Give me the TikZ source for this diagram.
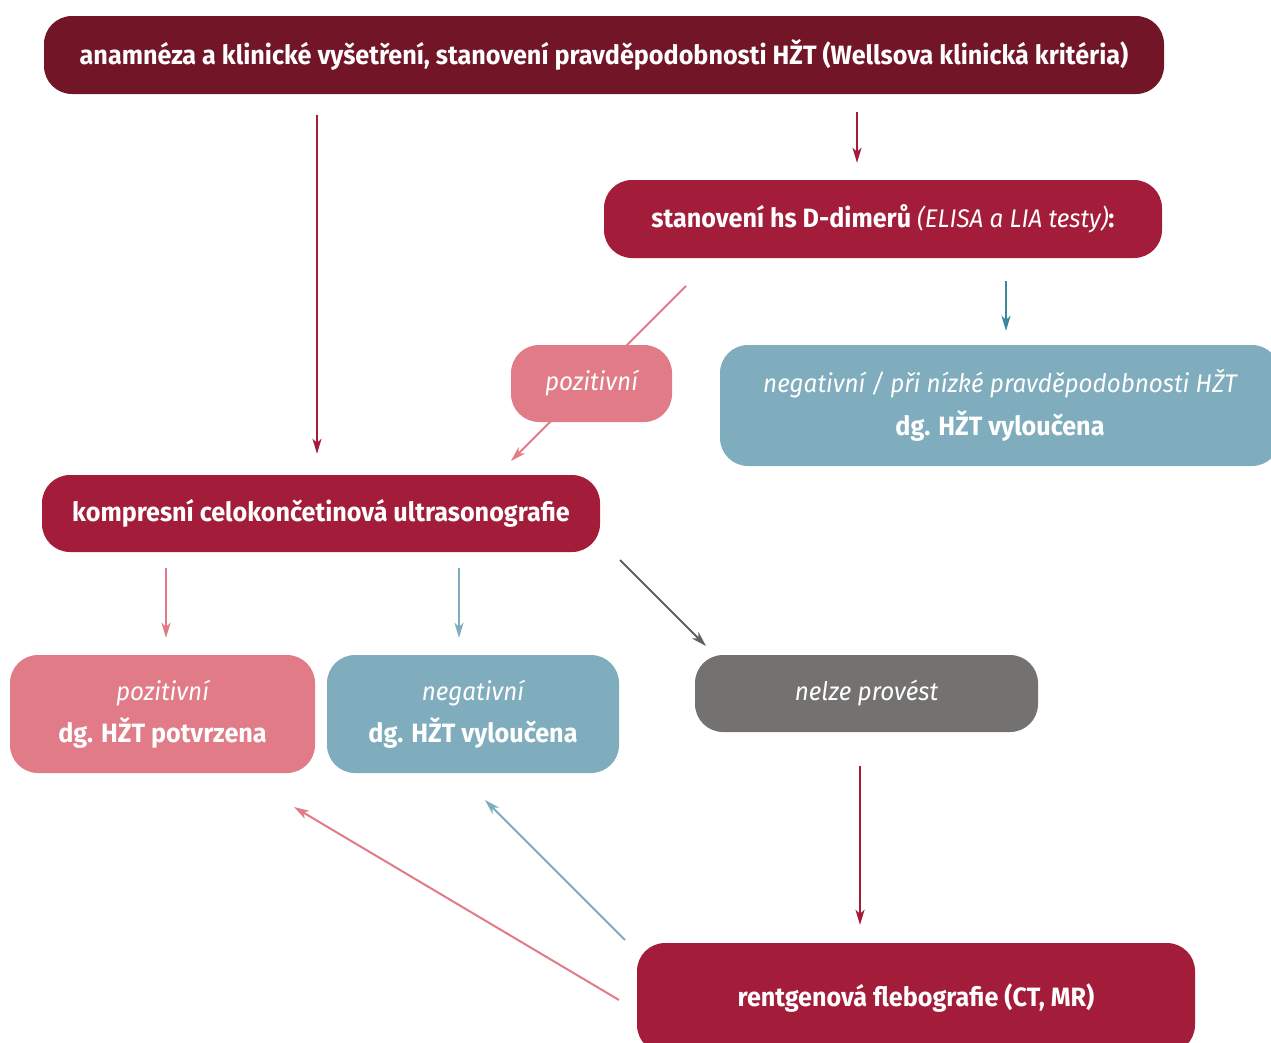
\documentclass[tikz,border=0pt]{standalone}
\usepackage{fontspec}
\setmainfont{Fira Sans}[FakeStretch=0.95]
\usetikzlibrary{arrows.meta}
\definecolor{cdark}{HTML}{721627}
\definecolor{ccrim}{HTML}{A31D3B}
\definecolor{cpink}{HTML}{E07B87}
\definecolor{cblue}{HTML}{80ADBD}
\definecolor{cgray}{HTML}{737270}
\definecolor{cteal}{HTML}{3A87A0}
\definecolor{cgarr}{HTML}{5F5F5F}
\tikzset{
  box/.style={rounded corners=28pt, text=white, align=center, inner sep=0pt,
    font=\fontsize{26.5}{30}\selectfont},
  conn/.style={line width=2pt, -{Stealth[length=15pt,width=9pt,inset=4pt]}},
}
\newcommand{\itx}[1]{{\fontsize{25.5}{30}\selectfont\mdseries\itshape #1}}
\begin{document}
\begin{tikzpicture}[x=1pt,y=-1pt]
\useasboundingbox (0,0) rectangle (1271,1042);
\begin{scope}
\clip (0,0) rectangle (1271,1042);
% nodes
\node[box, fill=cdark, minimum width=1120pt, minimum height=78pt] (top) at (604,55)
  {\bfseries anamnéza a klinické vyšetření, stanovení pravděpodobnosti HŽT (Wellsova klinická kritéria)};
\node[box, fill=ccrim, minimum width=558pt, minimum height=78pt] (ddim) at (883,219)
  {\bfseries stanovení hs D-dimerů \itx{(ELISA a LIA testy)}:};
\coordinate (d1) at (686,286);
\coordinate (d2) at (511,461);
\draw[conn, cpink] (d1) -- (d2);
\node[box, fill=cpink, minimum width=161pt, minimum height=77pt] (pos1) at (591.5,383.5)
  {\itx{pozitivní}};
\node[box, fill=cblue, minimum width=560pt, minimum height=121pt] (neg1) at (1000,405.5)
  {\itx{negativní / při nízké pravděpodobnosti HŽT}\\[11pt]\bfseries dg. HŽT vyloučena};
\node[box, fill=ccrim, minimum width=558pt, minimum height=77pt] (komp) at (321,513.5)
  {\bfseries kompresní celokončetinová ultrasonografie};
\node[box, fill=cpink, minimum width=305pt, minimum height=118pt] (pos2) at (162.5,714)
  {\itx{pozitivní}\\[11pt]\bfseries dg. HŽT potvrzena};
\node[box, fill=cblue, minimum width=292pt, minimum height=118pt] (neg2) at (473,714)
  {\itx{negativní}\\[11pt]\bfseries dg. HŽT vyloučena};
\node[box, fill=cgray, minimum width=343pt, minimum height=77pt] (nelze) at (866.5,693.5)
  {\itx{nelze provést}};
\node[box, fill=ccrim, minimum width=558pt, minimum height=110pt] (rtg) at (916,998)
  {\bfseries rentgenová flebografie (CT, MR)};
% connectors
\coordinate (x1) at (317,0);
\coordinate (x2) at (857,0);
\coordinate (x3) at (1006,0);
\coordinate (x5) at (166,0);
\coordinate (x6) at (459,0);
\coordinate (x8) at (860,0);
\draw[conn, ccrim, shorten <=21pt, shorten >=21pt] (top.south -| x1) -- (komp.north -| x1);
\draw[conn, ccrim, shorten <=18pt, shorten >=17pt] (top.south -| x2) -- (ddim.north -| x2);
\draw[conn, cteal, shorten <=23pt, shorten >=14pt] (ddim.south -| x3) -- (neg1.north -| x3);
\draw[conn, cpink, shorten <=16pt, shorten >=17pt] (komp.south -| x5) -- (pos2.north -| x5);
\draw[conn, cblue, shorten <=16pt, shorten >=17pt] (komp.south -| x6) -- (neg2.north -| x6);
\coordinate (g1) at (620,560);
\coordinate (g2) at (706,646);
\draw[conn, cgarr] (g1) -- (g2);
\draw[conn, ccrim, shorten <=34pt, shorten >=18pt] (nelze.south -| x8) -- (rtg.north -| x8);
\coordinate (r1) at (619,1000);
\coordinate (r2) at (294,807);
\draw[conn, cpink] (r1) -- (r2);
\coordinate (r3) at (625,940);
\coordinate (r4) at (485,800);
\draw[conn, cblue] (r3) -- (r4);
\end{scope}
\end{tikzpicture}
\end{document}
